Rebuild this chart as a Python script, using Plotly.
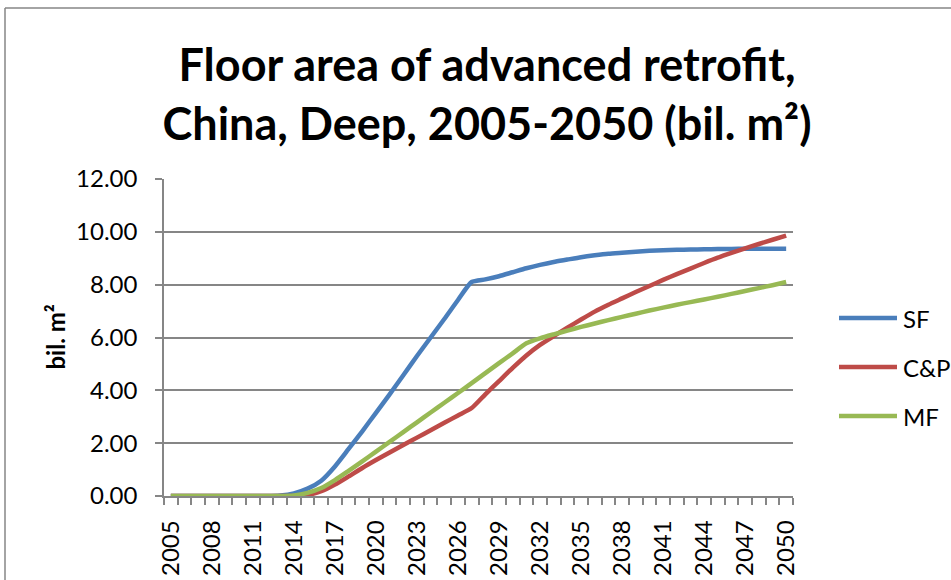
import plotly.graph_objects as go

# ---- data -------------------------------------------------------------
years = list(range(2005, 2051))

sf = [0, 0, 0, 0, 0, 0, 0, 0, 0.02, 0.10,
      0.28, 0.58, 1.12, 1.78, 2.45, 3.15, 3.85, 4.57, 5.30, 6.00,
      6.70, 7.42, 8.10, 8.20, 8.32, 8.47, 8.62, 8.75, 8.86, 8.95,
      9.04, 9.11, 9.17, 9.21, 9.25, 9.28, 9.30, 9.32, 9.33, 9.34,
      9.35, 9.35, 9.36, 9.36, 9.36, 9.36]

cp = [0, 0, 0, 0, 0, 0, 0, 0, 0, 0,
      0.04, 0.18, 0.43, 0.74, 1.06, 1.36, 1.65, 1.93, 2.21, 2.49,
      2.77, 3.05, 3.33, 3.85, 4.35, 4.85, 5.32, 5.72, 6.05, 6.37,
      6.68, 6.98, 7.24, 7.48, 7.72, 7.95, 8.18, 8.40, 8.61, 8.82,
      9.02, 9.20, 9.37, 9.54, 9.70, 9.86]

mf = [0, 0, 0, 0, 0, 0, 0, 0, 0, 0.02,
      0.12, 0.30, 0.60, 0.95, 1.31, 1.68, 2.05, 2.42, 2.79, 3.16,
      3.53, 3.90, 4.27, 4.65, 5.03, 5.40, 5.78, 5.97, 6.12, 6.26,
      6.40, 6.53, 6.66, 6.78, 6.90, 7.02, 7.13, 7.24, 7.34, 7.44,
      7.54, 7.65, 7.76, 7.87, 7.98, 8.10]

series_names = ["SF", "C&P", "MF"]
series_values = [sf, cp, mf]
series_colors = ["#4A7EBB", "#BE4B48", "#98B954"]

x_tick_years = list(range(2005, 2051, 3))
y_ticks = [0, 2, 4, 6, 8, 10, 12]

title_text = "Floor area of advanced retrofit,<br>China, Deep, 2005-2050 (bil. m²)"
y_title = "bil. m²"

# ---- geometry ---------------------------------------------------------
W, H = 951, 580
ML, MR, MT, MB = 164, 158, 179, 84
PW, PH = W - ML - MR, H - MT - MB
GRID = "#868686"
FONT = "Lato"
TICK_SIZE = 24


def px(xp):
    return (xp - ML) / PW


def py(yp):
    return (H - MB - yp) / PH


fig = go.Figure()
for name, vals, col in zip(series_names, series_values, series_colors):
    fig.add_trace(go.Scatter(
        x=years, y=vals, name=name, mode="lines",
        line=dict(color=col, width=4.5, shape="spline", smoothing=0.6),
        showlegend=False,
    ))

shapes = [
    # chart-area border (left and top edges)
    dict(type="line", xref="paper", yref="paper",
         x0=px(5), x1=px(5), y0=py(H + 5), y1=py(8),
         line=dict(color=GRID, width=1.5)),
    dict(type="line", xref="paper", yref="paper",
         x0=px(5), x1=px(W + 5), y0=py(8), y1=py(8),
         line=dict(color=GRID, width=1.5)),
]
annotations = [
    dict(text=y_title, xref="paper", yref="paper", x=px(55), y=0.5,
         xanchor="center", yanchor="middle", textangle=-90, showarrow=False,
         font=dict(family=FONT, size=24, color="black", weight="bold")),
]

# legend drawn at the right of the plot
for i, (name, col) in enumerate(zip(series_names, series_colors)):
    yy = 318 + 49 * i
    shapes.append(dict(type="line", xref="paper", yref="paper",
                       x0=px(839), x1=px(897), y0=py(yy), y1=py(yy),
                       line=dict(color=col, width=4.5)))
    annotations.append(dict(text=name, xref="paper", yref="paper",
                            x=px(901), y=py(yy), xanchor="left",
                            yanchor="middle", showarrow=False,
                            font=dict(family=FONT, size=TICK_SIZE, color="black")))

fig.update_layout(
    width=W, height=H,
    margin=dict(l=ML, r=MR, t=MT, b=MB, pad=0, autoexpand=False),
    paper_bgcolor="white", plot_bgcolor="white",
    title=dict(text=title_text, x=487 / W, xref="container", xanchor="center",
               y=1 - 81 / H, yref="container", yanchor="middle",
               font=dict(family=FONT, size=45, color="black", weight="bold")),
    shapes=shapes, annotations=annotations,
    showlegend=False,
)

fig.update_xaxes(
    type="linear", range=[2004.5, 2050.5], automargin=False,
    tickmode="array", tickvals=x_tick_years,
    ticktext=[str(y) for y in x_tick_years],
    tickangle=-90, ticks="outside", ticklen=7, tickcolor="rgba(0,0,0,0)",
    ticklabelstandoff=6,
    tickfont=dict(family=FONT, size=TICK_SIZE, color="black"),
    showgrid=False, zeroline=False,
    showline=True, linecolor=GRID, linewidth=1.5,
    minor=dict(tickmode="linear", tick0=2004.5, dtick=1, ticks="outside",
               ticklen=7, tickcolor=GRID, tickwidth=1.5, showgrid=False),
)

fig.update_yaxes(
    range=[0, 12], tickmode="array", tickvals=y_ticks, automargin=False,
    tickformat=".2f", ticks="outside", ticklen=7, tickcolor=GRID, tickwidth=1.5,
    ticklabelstandoff=13,
    tickfont=dict(family=FONT, size=TICK_SIZE, color="black"),
    showgrid=True, gridcolor=GRID, gridwidth=1.5, zeroline=False,
    showline=True, linecolor=GRID, linewidth=1.5,
)

fig.write_html("out.html")
